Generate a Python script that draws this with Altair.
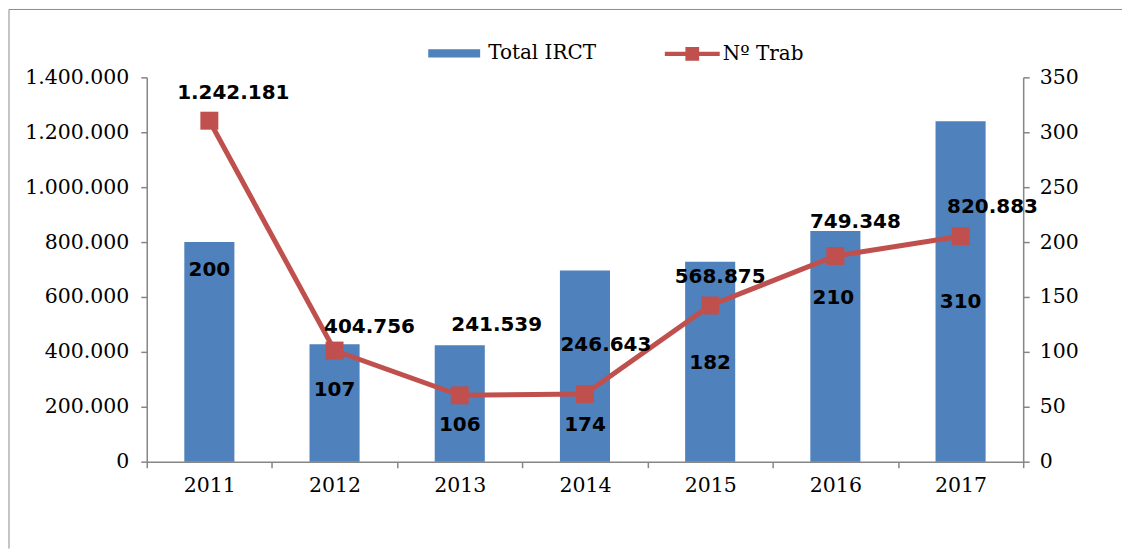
import altair as alt
import pandas as pd

# ---- data ----
years = ["2011", "2012", "2013", "2014", "2015", "2016", "2017"]
total_irct = [1242181, 404756, 241539, 246643, 568875, 749348, 820883]   # line (left axis)
n_trab = [200, 107, 106, 174, 182, 210, 310]                              # bars (right axis)
bar_series = "Total IRCT"
line_series = "Nº Trab"

# ---- label placement (pixel offsets, style only) ----
line_label_dx = [24, 35, 37, 21, 10, 20, 32]
line_label_dy = [-28, -24, -70, -49, -29, -34, -29]
bar_label_dx = [0, 0, 0, 0, 0, -2, 0]
bar_label_dy = [28, 46, 80, 155, 101, 67, 181]


def pt(v):
    return f"{v:,}".replace(",", ".")


df = pd.DataFrame({
    "year": years,
    "irct": total_irct,
    "trab": n_trab,
    "irct_lbl": [pt(v) for v in total_irct],
    "trab_lbl": [str(v) for v in n_trab],
    "sbar": [bar_series] * len(years),
    "sline": [line_series] * len(years),
})

BLUE = "#4F81BD"
RED = "#C0504D"
GREY = "#868686"
SERIF = "DejaVu Serif"
BOLD = "DejaVu Sans"
TICK_FS = 20.5

xaxis = alt.Axis(title=None, labelAngle=0, tickBand="extent", labelFont=SERIF,
                 labelFontSize=TICK_FS, labelColor="black", domainColor=GREY, domainWidth=1.5,
                 tickColor=GREY, tickWidth=1.5, tickSize=6, labelPadding=8)
x = alt.X("year:O", sort=years, scale=alt.Scale(paddingInner=0, paddingOuter=0), axis=xaxis)

right_axis = alt.Axis(orient="right", title=None, values=list(range(0, 351, 50)),
                      grid=False, labelFont=SERIF, labelFontSize=TICK_FS, labelColor="black",
                      domainColor=GREY, domainWidth=1.5, tickColor=GREY, tickWidth=1.5,
                      tickSize=6, labelPadding=10)
left_axis = alt.Axis(orient="left", title=None, values=list(range(0, 1400001, 200000)),
                     labelExpr="replace(replace(format(datum.value, ',d'), ',', '.'), ',', '.')",
                     grid=False, labelFont=SERIF, labelFontSize=TICK_FS, labelColor="black",
                     domainColor=GREY, domainWidth=1.5, tickColor=GREY, tickWidth=1.5,
                     tickSize=6, labelPadding=12)

y_right = alt.Y("trab:Q", scale=alt.Scale(domain=[0, 350], nice=False), axis=right_axis)
y_left = alt.Y("irct:Q", scale=alt.Scale(domain=[0, 1400000], nice=False), axis=left_axis)

base = alt.Chart(df)

bars = base.mark_bar(width=alt.RelativeBandSize(0.4), color=BLUE).encode(
    x=x,
    y=y_right,
    color=alt.Color("sbar:N", scale=alt.Scale(domain=[bar_series], range=[BLUE]),
                    legend=alt.Legend(title=None, orient="none", legendX=282, legendY=-50,
                                      symbolType="M-1,-0.16H1V0.16H-1Z", symbolSize=2704,
                                      symbolStrokeWidth=0, labelFont=SERIF, labelFontSize=20,
                                      labelColor="black", labelOffset=8)),
)

bar_texts = []
for yr, ddx, ddy in zip(years, bar_label_dx, bar_label_dy):
    bar_texts.append(
        base.transform_filter(alt.datum.year == yr).mark_text(
            font=BOLD, fontWeight="bold", fontSize=20, color="black",
            baseline="middle", align="center", dx=ddx, dy=ddy
        ).encode(x=x, y=y_right, text="trab_lbl:N")
    )

line = base.mark_line(color=RED, strokeWidth=5).encode(x=x, y=y_left)

points = base.mark_square(size=324, opacity=1, filled=True).encode(
    x=x,
    y=y_left,
    color=alt.Color("sline:N", scale=alt.Scale(domain=[line_series], range=[RED]),
                    legend=alt.Legend(title=None, orient="none", legendX=519, legendY=-51,
                                      symbolType="M-1,-0.08H1V0.08H-1Z M-0.25,-0.25H0.25V0.25H-0.25Z",
                                      symbolSize=3025, symbolStrokeWidth=0,
                                      labelFont=SERIF, labelFontSize=20,
                                      labelColor="black", labelOffset=3)),
)

line_texts = []
for yr, ddx, ddy in zip(years, line_label_dx, line_label_dy):
    line_texts.append(
        base.transform_filter(alt.datum.year == yr).mark_text(
            font=BOLD, fontWeight="bold", fontSize=20, color="black",
            baseline="middle", align="center", dx=ddx, dy=ddy
        ).encode(x=x, y=y_left, text="irct_lbl:N")
    )

frame_df = pd.DataFrame({"k": [0]})
frame_left = alt.Chart(frame_df).mark_rule(color="#8c8c8c", strokeWidth=1).encode(
    x=alt.value(-138), y=alt.value(-68), y2=alt.value(472))
frame_top = alt.Chart(frame_df).mark_rule(color="#8c8c8c", strokeWidth=1).encode(
    x=alt.value(-138), x2=alt.value(977), y=alt.value(-68))

bar_group = alt.layer(bars, *bar_texts)
line_group = alt.layer(line, points, *line_texts)

chart = alt.layer(frame_left, frame_top, bar_group, line_group).resolve_scale(
    y="independent", color="independent"
).properties(width=878, height=385, padding=0, background="white").configure_view(stroke=None)

chart.save("out.html", embed_options={"renderer": "svg", "actions": False})
